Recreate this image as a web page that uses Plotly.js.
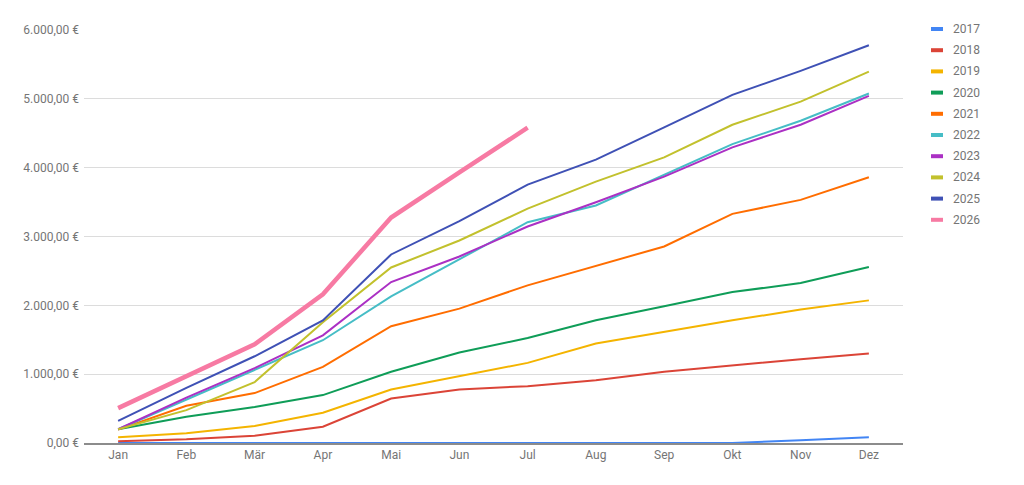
<!DOCTYPE html>
<html>
<head>
<meta charset="utf-8">
<script src="https://cdn.plot.ly/plotly-3.0.1.min.js"></script>
<style>
  html, body { margin: 0; padding: 0; background: #fff; }
  #chart { width: 1024px; height: 485px; }
</style>
</head>
<body>
<div id="chart"></div>
<script>
// months and cumulative values per year
const months = ['Jan', 'Feb', 'Mär', 'Apr', 'Mai', 'Jun', 'Jul', 'Aug', 'Sep', 'Okt', 'Nov', 'Dez'];
const years = ['2017', '2018', '2019', '2020', '2021', '2022', '2023', '2024', '2025', '2026'];

const y2017 = [0, 0, 0, 0, 0, 0, 0, 0, 0, 0, 40, 82];
const y2018 = [25, 54, 106, 236, 647, 778, 826, 913, 1034, 1130, 1217, 1300];
const y2019 = [82, 140, 246, 440, 778, 971, 1164, 1445, 1613, 1783, 1938, 2072];
const y2020 = [200, 381, 522, 696, 1034, 1314, 1526, 1783, 1986, 2193, 2324, 2556];
const y2021 = [195, 541, 725, 1106, 1696, 1952, 2290, 2570, 2855, 3329, 3532, 3860];
const y2022 = [200, 630, 1058, 1493, 2130, 2667, 3208, 3450, 3898, 4343, 4681, 5077];
const y2023 = [200, 660, 1087, 1565, 2338, 2710, 3145, 3497, 3870, 4295, 4623, 5043];
const y2024 = [200, 478, 884, 1755, 2550, 2942, 3405, 3797, 4150, 4623, 4960, 5396];
const y2025 = [320, 800, 1260, 1780, 2739, 3222, 3754, 4116, 4584, 5058, 5406, 5778];
const y2026 = [507, 975, 1435, 2160, 3275, 3930, 4580];

const yTicks = [0, 1000, 2000, 3000, 4000, 5000, 6000];

const series = [y2017, y2018, y2019, y2020, y2021, y2022, y2023, y2024, y2025, y2026];
const colors = ['#4285f4', '#db4437', '#f4b400', '#0f9d58', '#ff6d00', '#46bdc6', '#ab30c4', '#c2c12d', '#3f51b5', '#f77aa3'];

// german money format: 6.000,00 €
function euro(v) {
  let parts = v.toFixed(2).split('.');
  let whole = parts[0].replace(/\B(?=(\d{3})+(?!\d))/g, '.');
  return whole + ',' + parts[1] + ' €';
}

let traces = [];
for (let i = 0; i < years.length; i++) {
  traces.push({
    x: months.slice(0, series[i].length),
    y: series[i],
    name: years[i],
    type: 'scatter',
    mode: 'lines',
    line: {color: colors[i], width: (years[i] == '2026') ? 4.5 : 2},
    cliponaxis: false,
    hoverinfo: 'x+y+name'
  });
}

// legend on the right, google charts style (short thick swatches)
const plotL = 84, plotR = 903, plotT = 30, plotB = 443;
const pw = plotR - plotL, ph = plotB - plotT;
let shapes = [];
let annotations = [];
for (let i = 0; i < years.length; i++) {
  let py = 29 + i * 21.2;
  let yp = (plotB - py) / ph;
  shapes.push({
    type: 'line', xref: 'paper', yref: 'paper',
    x0: (931 - plotL) / pw, x1: (943 - plotL) / pw, y0: yp, y1: yp,
    line: {color: colors[i], width: 4}
  });
  annotations.push({
    xref: 'paper', yref: 'paper', x: (951 - plotL) / pw, y: yp,
    xanchor: 'left', yanchor: 'middle', showarrow: false,
    text: years[i], font: {family: 'Roboto', size: 12, color: '#757575'}
  });
}

const layout = {
  width: 1024,
  height: 485,
  margin: {l: plotL, r: 1024 - plotR, t: plotT, b: 485 - plotB},
  paper_bgcolor: '#fff',
  plot_bgcolor: '#fff',
  showlegend: false,
  font: {family: 'Roboto', size: 12, color: '#757575'},
  xaxis: {
    type: 'category',
    range: [-0.5, 11.5],
    showgrid: false,
    zeroline: false,
    showline: true,
    linecolor: '#8c8c8c',
    linewidth: 1.5,
    layer: 'below traces',
    ticks: '',
    tickfont: {family: 'Roboto', size: 12, color: '#757575'}
  },
  yaxis: {
    range: [0, 6000],
    tickmode: 'array',
    tickvals: yTicks,
    ticktext: yTicks.map(euro),
    showgrid: true,
    gridcolor: '#dcdcdc',
    gridwidth: 1,
    zeroline: false,
    showline: false,
    layer: 'below traces',
    ticks: '',
    ticklabelstandoff: 4,
    tickfont: {family: 'Roboto', size: 12, color: '#757575'}
  },
  shapes: shapes,
  annotations: annotations
};

Plotly.newPlot('chart', traces, layout, {displayModeBar: false, staticPlot: true});
</script>
</body>
</html>
